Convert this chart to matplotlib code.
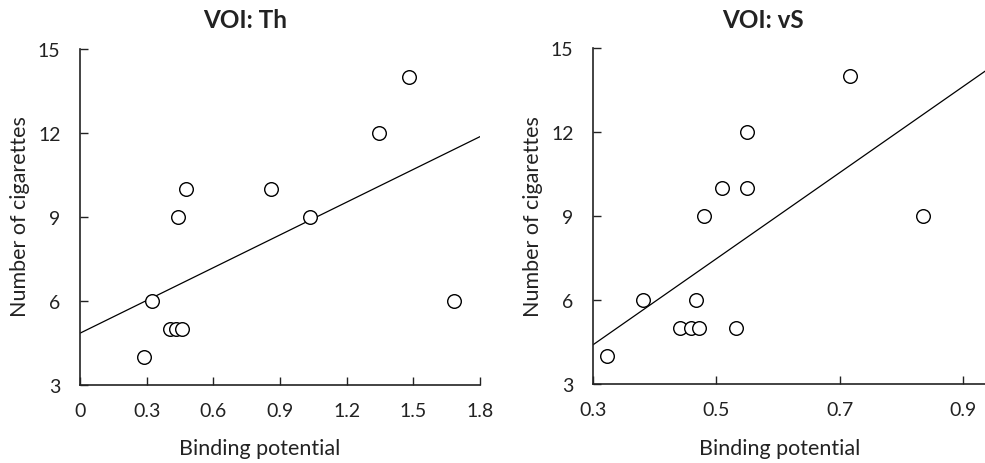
import numpy as np
import matplotlib
matplotlib.use("Agg")
import matplotlib.pyplot as plt

plt.rcParams['font.family'] = ['Lato', 'DejaVu Sans']

# VOI: Th panel
th_bp = [0.29, 0.325, 0.405, 0.432, 0.459, 0.443, 0.476, 0.858, 1.035, 1.346, 1.482, 1.685]
th_cig = [4, 6, 5, 5, 5, 9, 10, 10, 9, 12, 14, 6]
th_line_x = [0.0, 1.8]
th_line_y = [4.85, 11.87]

# VOI: vS panel
vs_bp = [0.322, 0.381, 0.441, 0.458, 0.471, 0.467, 0.480, 0.509, 0.531, 0.550, 0.550, 0.717, 0.834]
vs_cig = [4, 6, 5, 5, 5, 6, 9, 10, 5, 10, 12, 14, 9]
vs_line_x = [0.3, 0.935]
vs_line_y = [4.4, 14.17]

th_xticks = [0, 0.3, 0.6, 0.9, 1.2, 1.5, 1.8]
th_xlabels = ['0', '0.3', '0.6', '0.9', '1.2', '1.5', '1.8']
vs_xticks = [0.3, 0.5, 0.7, 0.9]
vs_xlabels = ['0.3', '0.5', '0.7', '0.9']
yticks = [3, 6, 9, 12, 15]

W, H = 985, 464
fig = plt.figure(figsize=(W / 100, H / 100), dpi=100)
ink = '#222222'


def make_axes(rect, xs, ys, lx, ly, xlim, xticks, xlabels, title, title_x, xlabel_x):
    x0, y0, x1, y1 = rect
    ax = fig.add_axes([x0 / W, 1 - y1 / H, (x1 - x0) / W, (y1 - y0) / H])
    ax.plot(lx, ly, color='black', lw=0.9, zorder=2)
    ax.plot(xs, ys, 'o', mfc='white', mec='black', mew=1.0, ms=9.8, zorder=3)
    ax.set_xlim(*xlim)
    ax.set_ylim(3, 15)
    ax.set_xticks(xticks)
    ax.set_xticklabels(xlabels)
    ax.set_yticks(yticks)
    ax.tick_params(direction='in', length=6, width=1, labelsize=14, colors=ink)
    ax.tick_params(axis='x', pad=12.5)
    ax.tick_params(axis='y', pad=14)
    for s in ['top', 'right']:
        ax.spines[s].set_visible(False)
    for s in ['left', 'bottom']:
        ax.spines[s].set_linewidth(1.2)
        ax.spines[s].set_color(ink)
    # axis labels and titles placed in figure pixels
    fig.text(xlabel_x / W, 1 - 449 / H, 'Binding potential', fontsize=15.5,
             ha='center', va='center', color=ink)
    fig.text((x0 - 60) / W, 1 - 217 / H, 'Number of cigarettes', fontsize=15.5,
             rotation=90, ha='center', va='center', color=ink)
    fig.text(title_x / W, 1 - 20 / H, title, fontsize=17.5, fontweight='bold',
             ha='center', va='center', color=ink)
    return ax


make_axes((80, 50, 480, 386), th_bp, th_cig, th_line_x, th_line_y,
          (0, 1.8), th_xticks, th_xlabels, 'VOI: Th', 245, 260)
make_axes((593, 49, 985, 385), vs_bp, vs_cig, vs_line_x, vs_line_y,
          (0.3, 0.935), vs_xticks, vs_xlabels, 'VOI: vS', 763, 780)

fig.savefig('out.png', dpi=100)
